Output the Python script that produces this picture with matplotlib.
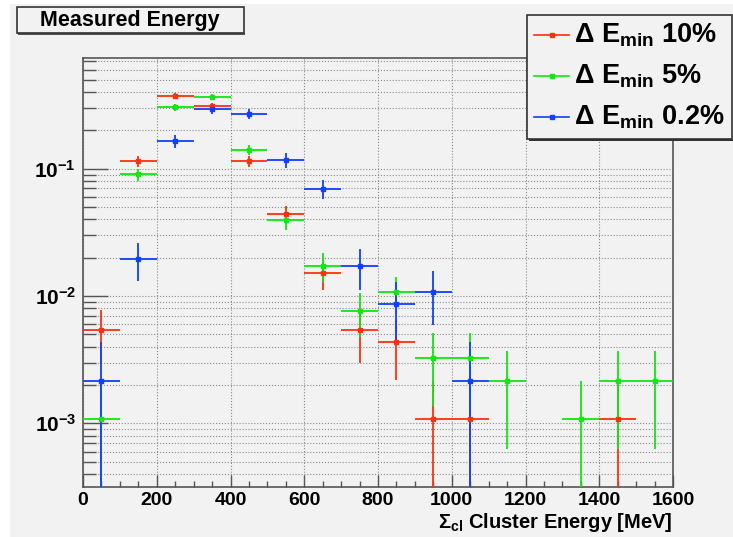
import matplotlib
matplotlib.use("Agg")
import matplotlib.pyplot as plt
import numpy as np
from matplotlib.lines import Line2D
from matplotlib.patches import Rectangle
from matplotlib.ticker import FixedLocator, NullFormatter

# bin centres (100 MeV bins)
bins_red = [50, 150, 250, 350, 450, 550, 650, 750, 850, 950, 1050, 1450]
vals_red = [5.4e-3, 0.115, 0.372, 0.309, 0.114, 0.0438, 0.0151, 5.4e-3, 4.35e-3,
            1.08e-3, 1.08e-3, 1.08e-3]

bins_green = [50, 150, 250, 350, 450, 550, 650, 750, 850, 950, 1050, 1150, 1350,
              1450, 1550]
vals_green = [1.08e-3, 0.0903, 0.304, 0.368, 0.141, 0.0394, 0.0173, 7.6e-3,
              0.0108, 3.24e-3, 3.24e-3, 2.16e-3, 1.08e-3, 2.16e-3, 2.16e-3]

bins_blue = [50, 150, 250, 350, 450, 550, 650, 750, 850, 950, 1050]
vals_blue = [2.16e-3, 0.0196, 0.164, 0.293, 0.270, 0.118, 0.0697, 0.0173,
             8.65e-3, 0.0108, 2.16e-3]

# weight of one entry in each histogram (for the Poisson errors)
units = [1.08e-3, 1.08e-3, 2.16e-3]
bin_width = 100

series = [
    ("10%", bins_red, vals_red, "#ff3010"),
    ("5%", bins_green, vals_green, "#10e810"),
    ("0.2%", bins_blue, vals_blue, "#1040ff"),
]

plt.rcParams["font.family"] = ["Liberation Sans", "DejaVu Sans"]
plt.rcParams["mathtext.fontset"] = "custom"
plt.rcParams["mathtext.rm"] = "Liberation Sans:bold"
plt.rcParams["mathtext.it"] = "Liberation Sans:bold"
plt.rcParams["mathtext.bf"] = "Liberation Sans:bold"

bg = "#f2f2f2"
fig = plt.figure(figsize=(7.33, 5.37), dpi=100, facecolor="white")
fig.patches.append(Rectangle((10 / 733, 0), 1, 1 - 4 / 537, transform=fig.transFigure,
                             facecolor=bg, edgecolor="none", zorder=-10))

ax = fig.add_axes([83 / 733, 1 - 486.7 / 537, 590 / 733, (486.7 - 58.3) / 537])
ax.set_facecolor(bg)
ax.set_yscale("log")
ax.set_xlim(0, 1600)
ax.set_ylim(3.18e-4, 0.736)

for (name, x, v, c), unit in zip(series, units):
    x = np.array(x, dtype=float)
    v = np.array(v)
    err = np.sqrt(v * unit)
    ax.errorbar(x, v, yerr=err, xerr=bin_width / 2, fmt="s", color=c, ms=3.5,
                elinewidth=1.3, capsize=0, zorder=3)

ax.xaxis.set_major_locator(FixedLocator(np.arange(0, 1601, 200)))
ax.xaxis.set_minor_locator(FixedLocator(np.arange(0, 1601, 50)))
ax.grid(True, which="major", axis="x", color="#8a8a8a", ls=":", lw=0.8)
ax.grid(True, which="both", axis="y", color="#8a8a8a", ls=":", lw=0.8)
ax.tick_params(axis="both", which="both", direction="in", color="#555555")
ax.tick_params(axis="x", which="major", length=9, width=1, labelsize=14, pad=4)
ax.tick_params(axis="x", which="minor", length=4.5, width=1)
ax.tick_params(axis="y", which="major", length=18, width=1, labelsize=15, pad=5)
ax.tick_params(axis="y", which="minor", length=9, width=1)
ax.yaxis.set_minor_formatter(NullFormatter())
for lab in ax.get_xticklabels() + ax.get_yticklabels():
    lab.set_fontweight("bold")
ax.set_yticks([1e-3, 1e-2, 1e-1])
ax.set_yticklabels([r"$10^{-3}$", r"$10^{-2}$", r"$10^{-1}$"])
for sp in ax.spines.values():
    sp.set_color("#555555")
    sp.set_linewidth(1.2)

fig.text(673 / 733, 1 - 522 / 537, r"$\Sigma_{cl}$ Cluster Energy [MeV]",
         ha="right", va="center", fontsize=14.5, fontweight="bold")

# title box
fig.patches.append(Rectangle((17 / 733, 1 - 33 / 537), 227 / 733, 26 / 537,
                             transform=fig.transFigure, facecolor=bg,
                             edgecolor="#333333", lw=1.2, zorder=5))
fig.patches.append(Rectangle((18 / 733, 1 - 35 / 537), 227 / 733, 2 / 537,
                             transform=fig.transFigure, facecolor="#555555",
                             edgecolor="none", zorder=4))
fig.text(130 / 733, 1 - 20.5 / 537, "Measured Energy", ha="center", va="center",
         fontsize=15.5, fontweight="bold", zorder=6)

# legend box
lx0, lx1, ly0, ly1 = 527, 732, 15, 139
fig.patches.append(Rectangle((lx0 / 733, 1 - ly1 / 537), (lx1 - lx0) / 733,
                             (ly1 - ly0) / 537, transform=fig.transFigure,
                             facecolor=bg, edgecolor="#333333", lw=1.2, zorder=5))
fig.patches.append(Rectangle((lx0 / 733 + 2 / 733, 1 - (ly1 + 2) / 537),
                             (lx1 - lx0) / 733, 2 / 537, transform=fig.transFigure,
                             facecolor="#333333", edgecolor="none", zorder=4))
for i, (name, x, v, c) in enumerate(series):
    yy = 1 - (35 + i * 41) / 537
    fig.add_artist(Line2D([534 / 733, 569 / 733], [yy, yy], color=c, lw=1.2,
                          zorder=6, transform=fig.transFigure))
    fig.add_artist(Line2D([551.5 / 733], [yy], color=c, marker="s", ms=3.5,
                          transform=fig.transFigure, zorder=7))
    fig.text(574 / 733, yy, r"$\Delta$ E$_{\mathrm{min}}$ " + name, ha="left",
             va="center", fontsize=19.5, fontweight="bold", zorder=6)

fig.savefig("out.png", dpi=100, facecolor="white")
